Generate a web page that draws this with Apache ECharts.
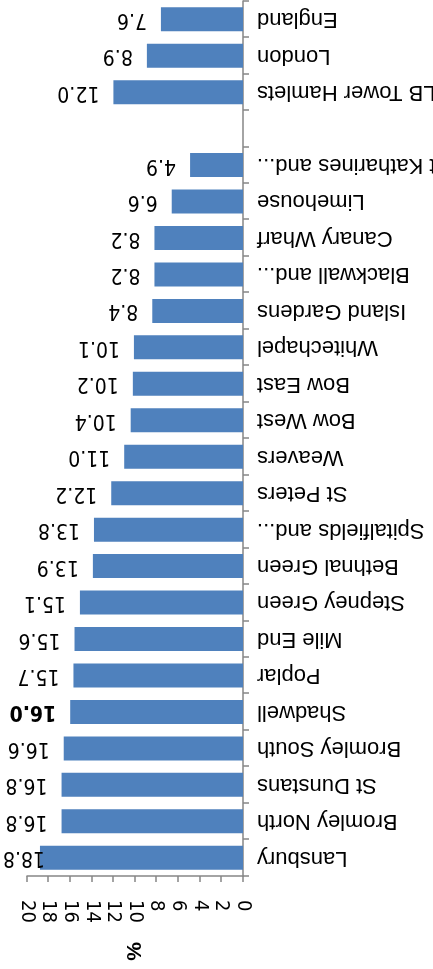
<!DOCTYPE html>
<html>
<head>
<meta charset="utf-8">
<script src="https://cdn.jsdelivr.net/npm/echarts@6/dist/echarts.min.js"></script>
<style>
  html, body { margin: 0; padding: 0; background: #fff; }
  #main { width: 433px; height: 969px; transform: rotate(180deg); }
</style>
</head>
<body>
<div id="main"></div>
<script>
// wards top to bottom (as read after turning the picture the right way up)
var categories = [
    "Lansbury", "Bromley North", "St Dunstans", "Bromley South", "Shadwell",
    "Poplar", "Mile End", "Stepney Green", "Bethnal Green", "Spitalfields and...",
    "St Peters", "Weavers", "Bow West", "Bow East", "Whitechapel",
    "Island Gardens", "Blackwall and...", "Canary Wharf", "Limehouse", "St Katharines and...",
    "", "LB Tower Hamlets", "London", "England"
];
var values = [
    18.8, 16.8, 16.8, 16.6, 16.0,
    15.7, 15.6, 15.1, 13.9, 13.8,
    12.2, 11.0, 10.4, 10.2, 10.1,
    8.4, 8.2, 8.2, 6.6, 4.9,
    null, 12.0, 8.9, 7.6
];
var boldLabel = "Shadwell";
var axisTicks = [0, 20, 2]; // min, max, step

var font = "Liberation Sans";
var numFont = "'DejaVu Sans Condensed', 'DejaVu Sans'";
var chart = echarts.init(document.getElementById("main"));

var data = [];
for (var i in values) {
    var aItem = { value: values[i] };
    if (categories[i] == boldLabel) aItem.label = { fontWeight: "bold" };
    if (values[i] != null && values[i] > 18) aItem.label = { distance: -5 };
    data.push(aItem);
}

chart.setOption({
    animation: false,
    grid: { left: 190, width: 216, top: 93, height: 875, containLabel: false, outerBoundsMode: "none" },
    xAxis: {
        type: "value",
        position: "top",
        min: axisTicks[0],
        max: axisTicks[1],
        interval: axisTicks[2],
        name: "%",
        nameLocation: "middle",
        nameGap: 66,
        nameRotate: -90,
        nameTextStyle: { fontFamily: font, fontSize: 21, fontWeight: "bold", color: "#000" },
        axisLine: { show: true, lineStyle: { color: "#868686", width: 1.5 } },
        axisTick: { show: true, length: 6, lineStyle: { color: "#868686", width: 1.5 } },
        axisLabel: {
            rotate: -90, margin: 24, fontFamily: numFont, fontSize: 20, color: "#000",
            showMinLabel: true, showMaxLabel: true, hideOverlap: false
        },
        splitLine: { show: false }
    },
    yAxis: {
        type: "category",
        inverse: true,
        data: categories,
        axisLine: { show: true, lineStyle: { color: "#868686", width: 1.5 } },
        axisTick: { show: true, length: 6, lineStyle: { color: "#868686", width: 1.5 } },
        axisLabel: { margin: 14, fontFamily: font, fontSize: 22, color: "#000", interval: 0 }
    },
    series: [{
        type: "bar",
        data: data,
        barWidth: 24,
        itemStyle: { color: "#4F81BD" },
        label: {
            show: true,
            position: "right",
            distance: 14,
            fontFamily: numFont,
            fontSize: 21,
            color: "#000",
            formatter: function (p) { return p.value == null ? "" : p.value.toFixed(1); }
        }
    }]
});
</script>
</body>
</html>
